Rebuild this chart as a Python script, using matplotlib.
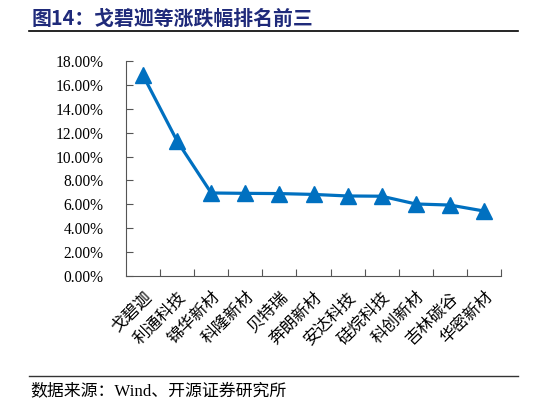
import matplotlib
matplotlib.use("Agg")
import matplotlib.pyplot as plt
from matplotlib.ticker import FuncFormatter
from matplotlib.lines import Line2D

# data
companies = ["戈碧迦", "利通科技", "锦华新材", "科隆新材", "贝特瑞", "奔朗新材",
             "安达科技", "硅烷科技", "科创新材", "吉林碳谷", "华密新材"]
change_pct = [16.80, 11.30, 6.95, 6.92, 6.90, 6.83, 6.70, 6.68, 6.03, 5.94, 5.44]

cjk = ["Noto Sans CJK SC", "DejaVu Sans"]
serif_cjk = ["Liberation Serif", "Noto Sans CJK SC"]

fig = plt.figure(figsize=(5.46, 4.05), dpi=100)
ax = fig.add_axes([126 / 546, 1 - 276 / 405, 375 / 546, 215 / 405])

x = range(len(companies))
ax.plot(x, change_pct, color="#0070C0", lw=2.3, marker="^", markersize=11,
        markerfacecolor="#0070C0", markeredgecolor="#0070C0")

ax.set_xlim(-0.5, len(companies) - 0.5)
ax.set_ylim(0, 18)
ax.set_yticks([i * 2 for i in range(10)])
ax.yaxis.set_major_formatter(FuncFormatter(lambda v, p: f"{v:.2f}%"))
for lab in ax.get_yticklabels():
    lab.set_family("Liberation Serif")
    lab.set_fontsize(11.2)

# category ticks sit between the categories
ax.set_xticks([i + 0.5 for i in range(len(companies) - 1)] + [len(companies) - 0.5], minor=False)
ax.set_xticklabels([])
ax.set_xticks(list(x), minor=True)
ax.set_xticklabels(companies, minor=True, rotation=45, ha="right", va="top",
                   rotation_mode="anchor", family=cjk, fontsize=12, fontweight="light")
ax.tick_params(axis="x", which="minor", length=0, pad=9)
ax.tick_params(axis="x", which="major", direction="in", length=5, color="#555555")
ax.tick_params(axis="y", direction="in", length=5, color="#555555", pad=16)

for s in ["top", "right"]:
    ax.spines[s].set_visible(False)
ax.spines["left"].set_color("#555555")
ax.spines["bottom"].set_color("#555555")

# title and source, as in the report layout
fig.text(32 / 546, 1 - 18 / 405, "图14：戈碧迦等涨跌幅排名前三", family=cjk,
         fontsize=14.3, fontweight="bold", color="#1F2A7A", va="center", ha="left")
fig.add_artist(Line2D([29 / 546, 518 / 546], [1 - 31 / 405, 1 - 31 / 405],
                      color="black", lw=1.2))
fig.add_artist(Line2D([29 / 546, 518 / 546], [1 - 375.5 / 405, 1 - 375.5 / 405],
                      color="#333333", lw=1.0))
fig.text(30 / 546, 1 - 391 / 405, "数据来源：Wind、开源证券研究所", family=serif_cjk,
         fontsize=12.2, color="black", va="center", ha="left")

fig.savefig("out.png", dpi=100)
